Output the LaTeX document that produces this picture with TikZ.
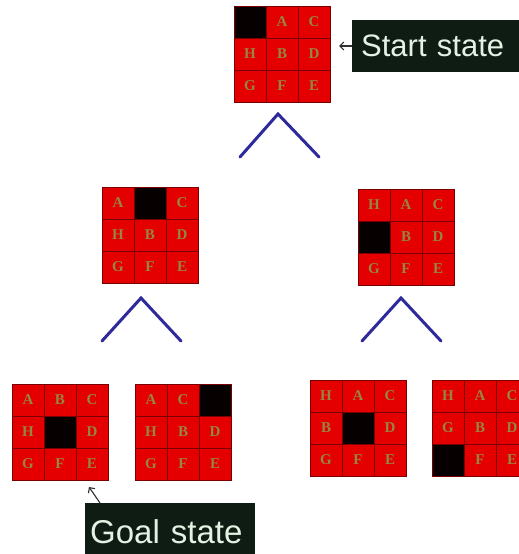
\documentclass[tikz,border=0pt]{standalone}
\usepackage{fontspec}
\setmainfont{Liberation Sans}
\newfontfamily\tilefont{Liberation Serif}
\usetikzlibrary{arrows.meta}
\definecolor{tilered}{HTML}{E40000}
\definecolor{tileedge}{HTML}{7A0000}
\definecolor{blank}{HTML}{060000}
\definecolor{letterfg}{HTML}{988444}
\definecolor{vblue}{HTML}{2E2A9C}
\definecolor{labelbg}{HTML}{0E1C14}
\definecolor{labelfg}{HTML}{E4F2E4}
\definecolor{arrowgray}{HTML}{303030}
\tikzset{
  puzframe/.style={draw=tileedge, fill=tilered, line width=1pt, minimum width=96pt, minimum height=96pt, inner sep=0pt, outer sep=0pt},
  cell/.style={draw=tileedge, line width=0.8pt, minimum size=32pt, inner sep=0pt, outer sep=0pt},
  letter/.style={text=letterfg, font=\tilefont\bfseries\fontsize{15}{15}\selectfont, inner sep=0pt},
  vline/.style={draw=vblue, line width=3pt, line cap=round},
  labelbox/.style={fill=labelbg, text=labelfg, inner xsep=9pt, inner ysep=0pt, align=left},
  pointer/.style={draw=arrowgray, line width=1.1pt, -{Straight Barb[length=4pt,width=8pt]}}
}
\newcommand\Puz[3]{%
  \node[puzframe, anchor=north west] (#1) at (#2) {};
  \foreach \f/\t [count=\k from 0] in {#3} {
    \pgfmathtruncatemacro\col{mod(\k,3)}
    \pgfmathtruncatemacro\row{int(\k/3)}
    \node[cell, fill=\f] (#1-\k) at ([xshift=\col*32pt+16pt, yshift=-\row*32pt-16pt]#1.north west) {};
    \node[letter] (#1-t\k) at (#1-\k.center) {\t};
  }
}
\begin{document}
\begin{tikzpicture}[x=1pt, y=-1pt]
\useasboundingbox[fill=white] (0,0) rectangle (519,554);
% puzzles
\Puz{top}{234,6}{blank/{},tilered/A,tilered/C,tilered/H,tilered/B,tilered/D,tilered/G,tilered/F,tilered/E}
\Puz{midL}{102,187}{tilered/A,blank/{},tilered/C,tilered/H,tilered/B,tilered/D,tilered/G,tilered/F,tilered/E}
\Puz{midR}{358,189}{tilered/H,tilered/A,tilered/C,blank/{},tilered/B,tilered/D,tilered/G,tilered/F,tilered/E}
\Puz{botA}{12,384}{tilered/A,tilered/B,tilered/C,tilered/H,blank/{},tilered/D,tilered/G,tilered/F,tilered/E}
\Puz{botB}{135,384}{tilered/A,tilered/C,blank/{},tilered/H,tilered/B,tilered/D,tilered/G,tilered/F,tilered/E}
\Puz{botC}{310,380}{tilered/H,tilered/A,tilered/C,tilered/B,blank/{},tilered/D,tilered/G,tilered/F,tilered/E}
\Puz{botD}{432,380}{tilered/H,tilered/A,tilered/C,tilered/G,tilered/B,tilered/D,blank/{},tilered/F,tilered/E}
% V connectors
\coordinate (v1l) at (240,157); \coordinate (v1a) at (278,114); \coordinate (v1r) at (319,157);
\coordinate (v2l) at (102,341); \coordinate (v2a) at (141,298); \coordinate (v2r) at (181,341);
\coordinate (v3l) at (362,341); \coordinate (v3a) at (401,298); \coordinate (v3r) at (441,341);
\draw[vline] (v1l) -- (v1a) -- (v1r);
\draw[vline] (v2l) -- (v2a) -- (v2r);
\draw[vline] (v3l) -- (v3a) -- (v3r);
% labels
\node[labelbox, anchor=west, minimum height=52pt, text width=170pt, font=\fontsize{31}{31}\selectfont] (start) at (352,46) {Start state};
\node[labelbox, anchor=north west, minimum height=56pt, inner xsep=5pt, text width=160pt, font=\fontsize{33}{33}\selectfont] (goal) at (85,503) {Goal state};
\coordinate (sa) at (339,46);
\coordinate (ga) at (89,487);
\draw[pointer] (start.west) -- (sa);
\draw[pointer] ([xshift=15pt]goal.north west) -- (ga);
\end{tikzpicture}
\end{document}
